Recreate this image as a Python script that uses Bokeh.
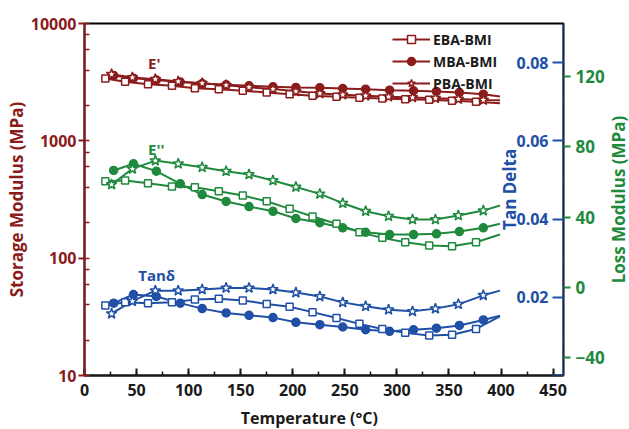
import math

from bokeh.embed import file_html
from bokeh.layouts import column, row
from bokeh.models import (Label, Legend, LegendItem, LinearAxis, LinearScale, LogTicker,
                          NumeralTickFormatter, Range1d, SingleIntervalTicker)
from bokeh.plotting import figure
from bokeh.resources import INLINE

# ---------------------------------------------------------------- data ----
# Temperatures (°C) of the measured points for each resin
temp_eba = [20, 39, 61, 84, 106, 129, 152, 175, 197, 219, 242, 264, 286, 308, 331, 353, 376]
temp_mba = [28, 47, 69, 92, 113, 136, 158, 181, 203, 226, 248, 270, 293, 316, 338, 360, 383]
temp_pba = [26, 46, 68, 90, 113, 136, 158, 181, 203, 226, 248, 270, 292, 315, 337, 359, 383]
# the fitted curves run on to this temperature
temp_end = 399

# Storage modulus E' (MPa)
storage_eba = [3398, 3185, 3040, 2946, 2812, 2756, 2672, 2584, 2500, 2423, 2373, 2327, 2296, 2265, 2239, 2194, 2152]
storage_mba = [3600, 3420, 3300, 3170, 3080, 3000, 2946, 2890, 2851, 2838, 2793, 2754, 2702, 2672, 2636, 2584, 2500]
storage_pba = [3698, 3467, 3351, 3206, 3098, 2979, 2860, 2760, 2640, 2530, 2470, 2420, 2380, 2345, 2310, 2275, 2230]
storage_end = {"EBA": 2086, "MBA": 2388, "PBA": 2213}

# Loss modulus E'' (MPa)
loss_eba = [60.4, 60.8, 59.2, 57.4, 57.0, 54.7, 52.3, 49.0, 44.7, 40.3, 36.2, 31.4, 28.2, 25.7, 23.9, 23.5, 25.7]
loss_mba = [66.5, 70.3, 66.1, 58.9, 52.8, 48.9, 46.0, 43.3, 39.2, 36.8, 33.9, 31.4, 30.1, 30.1, 30.5, 31.8, 33.9]
loss_pba = [58.5, 67.4, 72.1, 70.3, 68.3, 66.1, 64.2, 60.8, 57.1, 53.2, 47.9, 43.3, 40.5, 38.6, 38.6, 40.9, 43.7]
loss_end = {"EBA": 30.1, "MBA": 36.2, "PBA": 46.6}

# Loss factor tan(delta)
tan_eba = [0.0179, 0.0187, 0.0185, 0.0187, 0.0194, 0.0196, 0.0192, 0.0183, 0.0176, 0.0162, 0.0147, 0.0132, 0.0119, 0.0109, 0.0102, 0.0104, 0.0119]
tan_mba = [0.0185, 0.0207, 0.0202, 0.0185, 0.0171, 0.0160, 0.0154, 0.0148, 0.0136, 0.0130, 0.0124, 0.0117, 0.0113, 0.0117, 0.0121, 0.0128, 0.0142]
tan_pba = [0.0158, 0.0190, 0.0217, 0.0217, 0.0220, 0.0224, 0.0224, 0.0220, 0.0212, 0.0202, 0.0187, 0.0177, 0.0168, 0.0164, 0.0171, 0.0182, 0.0205]
tan_end = {"EBA": 0.0151, "MBA": 0.0153, "PBA": 0.0217}

resins = ["EBA", "MBA", "PBA"]
legend_labels = ["EBA-BMI", "MBA-BMI", "PBA-BMI"]
x_ticks_step = 50
tan_ticks_step = 0.02
loss_ticks_step = 40

# -------------------------------------------------------------- styling ---
FONT = "Open Sans"
DARK_RED = "#8B1C1C"
GREEN = "#1F8A3D"
BLUE = "#2050A6"
TEXT = "#1a1a1a"

temps = {"EBA": temp_eba, "MBA": temp_mba, "PBA": temp_pba}
storage = {"EBA": storage_eba, "MBA": storage_mba, "PBA": storage_pba}
loss = {"EBA": loss_eba, "MBA": loss_mba, "PBA": loss_pba}
tand = {"EBA": tan_eba, "MBA": tan_mba, "PBA": tan_pba}

marker_style = {
    "EBA": dict(marker="square", size=7, fill_color="white"),
    "MBA": dict(marker="circle", size=8, fill_color=None),
    "PBA": dict(marker="star", size=11, fill_color="white"),
}

# main plot; the loss-modulus title and the temperature title live in thin
# strips to the right of and below it
p = figure(width=607, height=405, y_axis_type="log",
           x_range=Range1d(0, 460), y_range=Range1d(10, 10000),
           output_backend="svg", toolbar_location=None,
           min_border_left=84, min_border_right=42,
           min_border_top=23, min_border_bottom=30)
p.extra_y_ranges = {"tan": Range1d(0, 0.09), "loss": Range1d(-50, 150)}
p.extra_y_scales = {"tan": LinearScale(), "loss": LinearScale()}
p.xgrid.visible = False
p.ygrid.visible = False
p.outline_line_color = "black"
p.outline_line_width = 2
p.background_fill_color = "white"
p.border_fill_color = "white"


def style_axis(ax, color, label_size="16px"):
    ax.axis_line_color = color
    ax.axis_line_width = 2
    ax.major_tick_line_color = color
    ax.major_tick_line_width = 2
    ax.minor_tick_line_color = color
    ax.minor_tick_line_width = 1.5
    ax.major_label_text_color = color
    ax.major_label_text_font = FONT
    ax.major_label_text_font_style = "bold"
    ax.major_label_text_font_size = label_size
    ax.axis_label_text_color = color
    ax.axis_label_text_font = FONT
    ax.axis_label_text_font_style = "bold"
    ax.axis_label_text_font_size = "17px"


# left: storage modulus (log)
ya = p.yaxis[0]
style_axis(ya, DARK_RED)
ya.ticker = LogTicker()
ya.formatter = NumeralTickFormatter(format="0")
ya.axis_label = "Storage Modulus (MPa)"
ya.major_tick_out = 6
ya.major_tick_in = 0
ya.minor_tick_in = 5
ya.minor_tick_out = 0
ya.major_label_standoff = 2
ya.axis_label_standoff = 0

# bottom: temperature ticks
xa = p.xaxis[0]
style_axis(xa, TEXT)
xa.ticker = SingleIntervalTicker(interval=x_ticks_step, num_minor_ticks=2)
xa.major_tick_in = 7
xa.major_tick_out = 0
xa.minor_tick_in = 4
xa.minor_tick_out = 0
xa.major_label_standoff = 8

# right, drawn on the frame edge: tan delta with labels inside
tan_axis = LinearAxis(y_range_name="tan", fixed_location=460,
                      ticker=SingleIntervalTicker(interval=tan_ticks_step, num_minor_ticks=2),
                      formatter=NumeralTickFormatter(format="0.00"))
style_axis(tan_axis, BLUE)
tan_axis.major_label_overrides = {0: ""}
tan_axis.major_tick_in = 11
tan_axis.major_tick_out = 0
tan_axis.minor_tick_in = 0
tan_axis.minor_tick_out = 6
tan_axis.major_label_standoff = -53
p.add_layout(tan_axis, "right")

# right, outside: loss modulus
loss_axis = LinearAxis(y_range_name="loss",
                       ticker=SingleIntervalTicker(interval=loss_ticks_step))
style_axis(loss_axis, GREEN, label_size="17px")
loss_axis.axis_line_color = None
loss_axis.minor_tick_line_color = None
loss_axis.major_tick_in = 0
loss_axis.major_tick_out = 7
loss_axis.major_label_standoff = 5
p.add_layout(loss_axis, "right")

# curves first, markers on top
storage_lines = {}
storage_marks = {}
for r in resins:
    xs_line = temps[r] + [temp_end]
    storage_lines[r] = p.line(xs_line, storage[r] + [storage_end[r]],
                              line_color=DARK_RED, line_width=2)
    p.line(xs_line, loss[r] + [loss_end[r]], line_color=GREEN, line_width=2, y_range_name="loss")
    p.line(xs_line, tand[r] + [tan_end[r]], line_color=BLUE, line_width=2, y_range_name="tan")

for r in resins:
    st = dict(marker_style[r])
    filled = st.pop("fill_color") is None
    for ys, color, rng in ((storage[r], DARK_RED, "default"),
                           (loss[r], GREEN, "loss"),
                           (tand[r], BLUE, "tan")):
        sc = p.scatter(temps[r], ys, line_color=color, line_width=1.5,
                       fill_color=color if filled else "white",
                       y_range_name=rng, **st)
        if rng == "default":
            storage_marks[r] = sc

items = [LegendItem(label=lab, renderers=[storage_lines[r], storage_marks[r]])
         for r, lab in zip(resins, legend_labels)]
legend = Legend(items=items, location=(308, 282), orientation="vertical",
                glyph_width=38, glyph_height=20, label_height=20, label_standoff=3,
                spacing=2, padding=0, margin=0,
                label_text_font=FONT, label_text_font_style="bold",
                label_text_font_size="14px", label_text_color=TEXT,
                border_line_color=None, background_fill_alpha=0)
p.add_layout(legend)

# group captions
p.add_layout(Label(x=61, y=4650, text="E'", text_color=DARK_RED, text_font=FONT,
                   text_font_style="bold", text_font_size="15px",
                   text_baseline="alphabetic"))
p.add_layout(Label(x=61, y=78.8, y_range_name="loss", text="E''", text_color=GREEN,
                   text_font=FONT, text_font_style="bold", text_font_size="15px",
                   text_baseline="alphabetic"))
p.add_layout(Label(x=51.6, y=0.0256, y_range_name="tan", text="Tanδ", text_color=BLUE,
                   text_font=FONT, text_font_style="bold", text_font_size="15px",
                   text_baseline="alphabetic"))
# title of the inner tan-delta scale, reading upwards
p.add_layout(Label(x=408, y=0.0476, y_range_name="tan", text="Tan Delta", angle=math.pi / 2,
                   text_color=BLUE, text_font=FONT, text_font_style="bold",
                   text_font_size="17px", text_align="center", text_baseline="middle"))


def strip(width, height, **borders):
    f = figure(width=width, height=height, output_backend="svg", toolbar_location=None,
               x_axis_location=None, y_axis_location=None,
               min_border_left=borders.get("left", 0), min_border_right=borders.get("right", 0),
               min_border_top=borders.get("top", 0), min_border_bottom=borders.get("bottom", 0))
    f.grid.visible = False
    f.outline_line_color = None
    f.background_fill_color = "white"
    f.border_fill_color = "white"
    return f


# loss-modulus scale title, aligned with the plot frame, reading upwards
right_strip = strip(22, 405, top=23, bottom=30)
right_strip.x_range = Range1d(0, 1)
right_strip.y_range = Range1d(-50, 150)
right_strip.add_layout(Label(x=0.5, y=50, text="Loss Modulus (MPa)", angle=math.pi / 2,
                             text_color=GREEN, text_font=FONT, text_font_style="bold",
                             text_font_size="17px", text_align="center",
                             text_baseline="middle"))

# temperature axis title
bottom_strip = strip(629, 24, left=84, right=64)
bottom_strip.x_range = Range1d(0, 460)
bottom_strip.y_range = Range1d(0, 1)
bottom_strip.add_layout(Label(x=215, y=0.5, text="Temperature (°C)", text_color=TEXT,
                              text_font=FONT, text_font_style="bold", text_font_size="16px",
                              text_align="center", text_baseline="middle"))

layout = column(row(p, right_strip), bottom_strip)
open("out.html", "w").write(file_html(layout, INLINE))
